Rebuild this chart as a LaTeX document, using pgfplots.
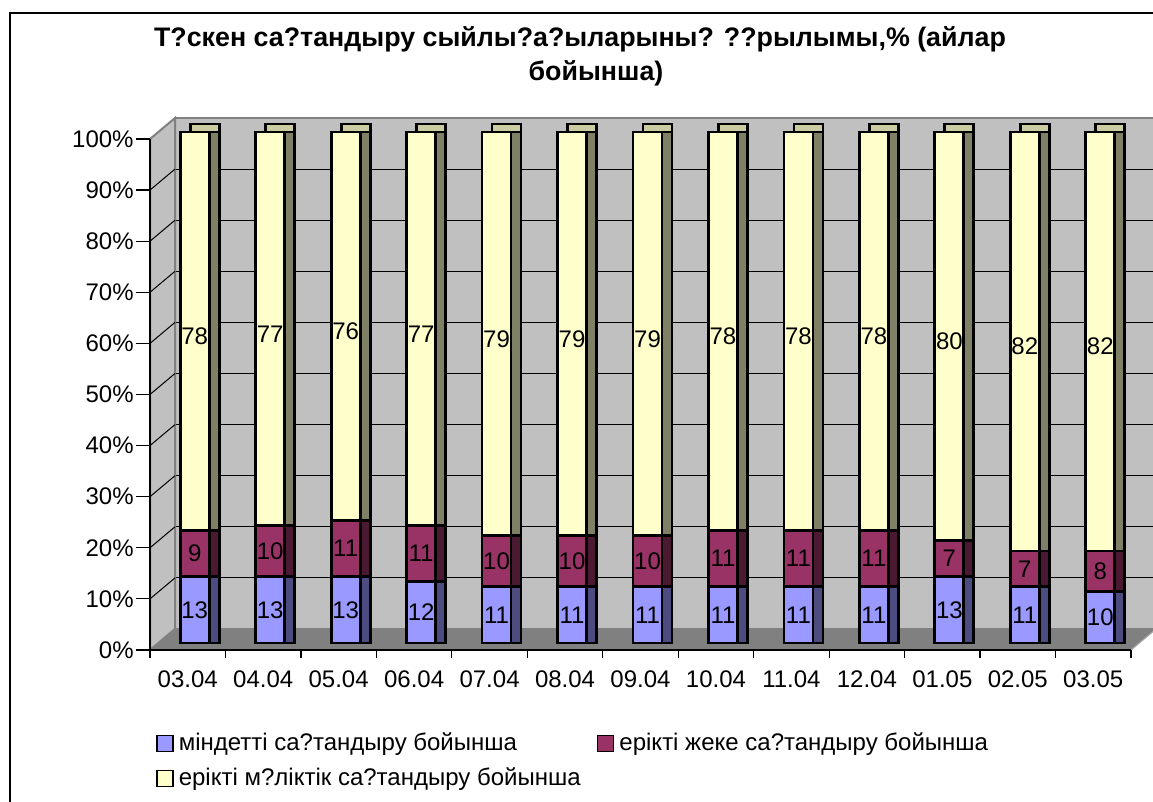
\documentclass[border=0pt]{standalone}
\usepackage{pgfplots}
\pgfplotsset{compat=1.18}
\usepackage{pgfplotstable}
\usepackage{fontspec}
\setmainfont{Liberation Sans}
\definecolor{cA}{HTML}{9999FF}
\definecolor{cB}{HTML}{993366}
\definecolor{cC}{HTML}{FFFFCC}
\definecolor{sA}{HTML}{4C4C80}
\definecolor{sB}{HTML}{4C1933}
\definecolor{sC}{HTML}{808066}
\definecolor{tC}{HTML}{CCCCA3}
\definecolor{wall}{HTML}{C0C0C0}
\definecolor{floorc}{HTML}{808080}

\pgfplotstableread{
x a b c
0.5 13 9 78
1.5 13 10 77
2.5 13 11 76
3.5 12 11 77
4.5 11 10 79
5.5 11 10 79
6.5 11 10 79
7.5 11 11 78
8.5 11 11 78
9.5 11 11 78
10.5 13 7 80
11.5 11 7 82
12.5 10 8 82
}\data

\pgfplotsset{
  base/.style={scale only axis, width=490.5pt, height=255.5pt, xmin=0, xmax=13, ymin=0, ymax=100, anchor=south west},
  bars/.style={base, ybar stacked, bar width=14.5pt, bar shift=0pt, hide axis, clip=false},
  seg/.style={draw=black, line width=1.4pt},
  lbl/.style={draw=none, mark=none, nodes near coords, point meta=explicit symbolic,
    every node near coord/.style={anchor=center, font=\fontsize{12}{14}\selectfont, inner sep=0pt}},
}
\begin{document}
\begin{tikzpicture}[x=0.5pt,y=0.5pt]
\path[use as bounding box] (0,0) rectangle (1153,802);
\clip (0,0) rectangle (1153,802);
\fill[white] (0,0) rectangle (1153,802);
\draw[line width=1pt] (10,-20) rectangle (1180,789);

% back wall
\begin{axis}[base, at={(87.5pt,86.5pt)}, axis background/.style={fill=wall},
  ytick={0,10,...,100}, xtick=\empty, scaled y ticks=false,
  yticklabel style={opacity=0}, ymajorgrids,
  grid style={black, line width=0.5pt}, major tick length=0pt, ytick style={draw=none},
  axis line style={draw=floorc, line width=1pt}]
\addplot[draw=none] coordinates {(0,0)};
\end{axis}

% floor and left wall
\fill[floorc] (150,152) -- (1131,152) -- (1156,173) -- (175,173) -- cycle;
\draw[gray!70, line width=0.6pt] (1131,152) -- (1156,173);
\filldraw[fill=wall, draw=floorc, line width=1pt] (150,152) -- (175,173) -- (175,684) -- (150,663) -- cycle;
\foreach \k in {1,...,9} \draw[black, line width=0.5pt] (150,152+51.1*\k) -- (175,173+51.1*\k);

% top faces
\begin{axis}[bars, at={(83.5pt,83.5pt)}]
\addplot[seg, fill=sA] table[x=x,y=a]{\data};
\addplot[seg, fill=sB] table[x=x,y=b]{\data};
\addplot[seg, fill=tC] table[x=x,y=c]{\data};
\end{axis}
% side faces
\begin{axis}[bars, at={(83.5pt,79.5pt)}]
\addplot[seg, fill=sA] table[x=x,y=a]{\data};
\addplot[seg, fill=sB] table[x=x,y=b]{\data};
\addplot[seg, fill=sC] table[x=x,y=c]{\data};
\end{axis}
% front faces
\begin{axis}[bars, at={(78.5pt,79.5pt)}]
\addplot[seg, fill=cA] table[x=x,y=a]{\data};
\addplot[seg, fill=cB] table[x=x,y=b]{\data};
\addplot[seg, fill=cC] table[x=x,y=c]{\data};
\end{axis}
% value labels
\begin{axis}[base, at={(78.5pt,79.5pt)}, hide axis, clip=false]
\addplot[lbl] table[x=x, y expr=\thisrow{a}/2, meta=a]{\data};
\addplot[lbl] table[x=x, y expr=\thisrow{a}+\thisrow{b}/2, meta=b]{\data};
\addplot[lbl] table[x=x, y expr=\thisrow{a}+\thisrow{b}+\thisrow{c}/2-1, meta=c]{\data};
\end{axis}

% y axis
\begin{axis}[base, at={(75pt,76pt)}, axis x line=none, axis y line*=left,
  xtick=\empty, ytick={0,10,...,100},
  yticklabels={0\%,10\%,20\%,30\%,40\%,50\%,60\%,70\%,80\%,90\%,100\%},
  tick align=outside, major tick length=7pt,
  y axis line style={line width=0.6pt, black}, ytick style={line width=0.6pt, black},
  yticklabel style={font=\fontsize{12}{14}\selectfont, inner sep=1pt},
  /pgf/number format/assume math mode=true]
\addplot[draw=none] coordinates {(0,0)};
\end{axis}

% x axis and legend
\begin{axis}[base, at={(75pt,76pt)}, axis y line=none, axis x line*=bottom,
  xtick={0,...,13}, ytick=\empty,
  xticklabels={03.04,04.04,05.04,06.04,07.04,08.04,09.04,10.04,11.04,12.04,01.05,02.05,03.05},
  x tick label as interval, tick align=outside, major tick length=4pt,
  x axis line style={line width=0.6pt, black}, xtick style={line width=0.6pt, black},
  xticklabel style={font=\fontsize{12}{14}\selectfont, yshift=-2.8pt},
  legend columns=2, legend cell align=left,
  legend style={at={(0.00612,-0.16243)}, anchor=north west, draw=none, fill=none,
    inner sep=0pt, outer sep=0pt, font=\fontsize{12}{14}\selectfont,
    nodes={inner sep=0pt, text height=9pt, text depth=3pt},
    /tikz/every odd column/.append style={column sep=2.5pt},
    /tikz/every even column/.append style={column sep=8pt}, row sep=5.5pt},
  legend image code/.code={\draw[#1, line width=0.9pt] (0pt,-3.3pt) rectangle (8pt,4.7pt);}]
\addplot[draw=none, forget plot] coordinates {(0,0)};
\addlegendimage{fill=cA, draw=black}
\addlegendentry{міндетті са?тандыру бойынша}
\addlegendimage{fill=cB, draw=black}
\addlegendentry{ерікті жеке са?тандыру бойынша}
\addlegendimage{fill=cC, draw=black}
\addlegendentry{ерікті м?ліктік са?тандыру бойынша}
\end{axis}

% title
\node[font=\fontsize{13.4}{16}\selectfont\bfseries, anchor=base, inner sep=0pt] at (580,755) {Т?скен са?тандыру сыйлы?а?ыларыны? ??рылымы,\% (айлар};
\node[font=\fontsize{13.4}{16}\selectfont\bfseries, anchor=base, inner sep=0pt] at (596,721) {бойынша)};
\end{tikzpicture}
\end{document}
